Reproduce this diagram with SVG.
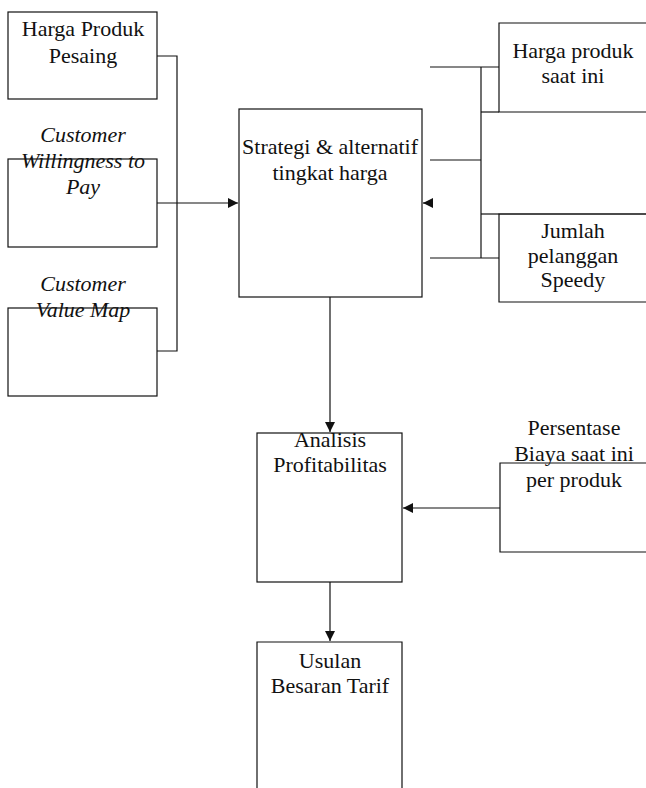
<svg xmlns="http://www.w3.org/2000/svg" width="646" height="788" viewBox="0 0 646 788">
<defs>
<style>
.box{fill:none;stroke:#111;stroke-width:1.2}
.ln{fill:none;stroke:#111;stroke-width:1.2}
text{font-family:"Liberation Serif","Times New Roman",serif;font-size:22px;fill:#111;text-anchor:middle}
.it{font-style:italic}
</style>
<marker id="ah" viewBox="0 0 10 10" refX="10" refY="5" markerWidth="10" markerHeight="10" markerUnits="userSpaceOnUse" orient="auto">
<path d="M0,0 L10,5 L0,10 Z" fill="#111"/>
</marker>
</defs>
<rect width="646" height="788" fill="#fff"/>
<g id="connectors">
<polyline class="ln" points="157,56 177,56 177,351 157,351"/>
<line class="ln" x1="157" y1="203" x2="238" y2="203" marker-end="url(#ah)"/>
<line class="ln" x1="430" y1="67" x2="499" y2="67"/>
<line class="ln" x1="430" y1="160" x2="481" y2="160"/>
<line class="ln" x1="430" y1="258" x2="499" y2="258"/>
<line class="ln" x1="481" y1="67" x2="481" y2="258"/>
<line class="ln" x1="481" y1="112" x2="499" y2="112"/>
<line class="ln" x1="481" y1="214" x2="499" y2="214"/>
<line class="ln" x1="432" y1="203" x2="423" y2="203" marker-end="url(#ah)"/>
<line class="ln" x1="330" y1="297" x2="330" y2="432" marker-end="url(#ah)"/>
<line class="ln" x1="500" y1="508" x2="403" y2="508" marker-end="url(#ah)"/>
<line class="ln" x1="330" y1="582" x2="330" y2="641" marker-end="url(#ah)"/>
</g>
<g id="harga-produk-pesaing">
<rect class="box" x="8" y="12" width="149" height="87"/>
<text x="83" y="36">Harga Produk</text>
<text x="83" y="63">Pesaing</text>
</g>
<g id="willingness">
<rect class="box" x="8" y="159" width="149" height="88"/>
<text class="it" x="83" y="142">Customer</text>
<text class="it" x="83" y="168">Willingness to</text>
<text class="it" x="83" y="194">Pay</text>
</g>
<g id="value-map">
<rect class="box" x="8" y="308" width="149" height="88"/>
<text class="it" x="83" y="291">Customer</text>
<text class="it" x="83" y="317">Value Map</text>
</g>
<g id="strategi">
<rect class="box" x="239" y="109" width="183" height="188"/>
<text x="330" y="154">Strategi &amp; alternatif</text>
<text x="330" y="180">tingkat harga</text>
</g>
<g id="harga-produk-saat-ini">
<polyline class="box" points="646,23 499,23 499,112 646,112"/>
<text x="573" y="58">Harga produk</text>
<text x="573" y="83">saat ini</text>
</g>
<g id="middle-right">
<line class="ln" x1="499" y1="214" x2="646" y2="214"/>
</g>
<g id="jumlah-pelanggan">
<polyline class="box" points="646,214 499,214 499,302 646,302"/>
<text x="573" y="238">Jumlah</text>
<text x="573" y="263">pelanggan</text>
<text x="573" y="287">Speedy</text>
</g>
<g id="analisis">
<rect class="box" x="257" y="433" width="145" height="149"/>
<text x="330" y="447">Analisis</text>
<text x="330" y="472">Profitabilitas</text>
</g>
<g id="persentase">
<polyline class="box" points="646,463 500,463 500,552 646,552"/>
<text x="574" y="435">Persentase</text>
<text x="574" y="461">Biaya saat ini</text>
<text x="574" y="487">per produk</text>
</g>
<g id="usulan">
<polyline class="box" points="257,788 257,642 402,642 402,788"/>
<text x="330" y="668">Usulan</text>
<text x="330" y="693">Besaran Tarif</text>
</g>
</svg>
